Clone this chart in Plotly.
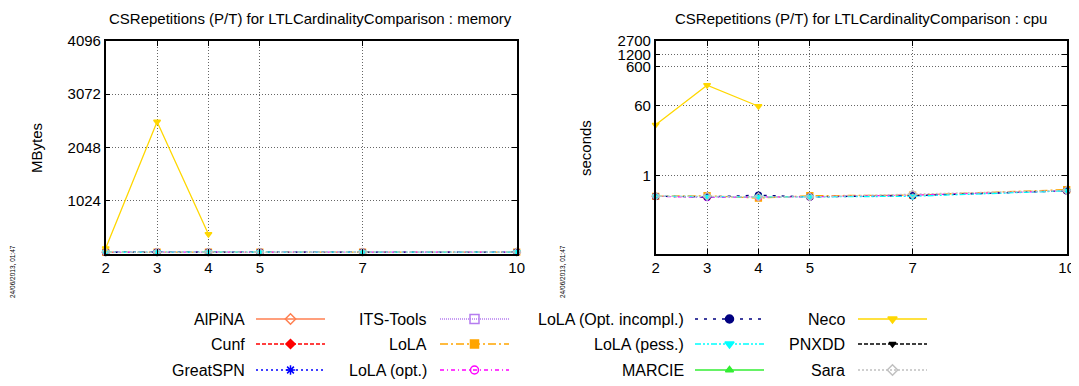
import plotly.graph_objects as go

# x axis: model scaling parameter
sizes = [2, 3, 4, 5, 7, 10]
x_ticks = [2, 3, 4, 5, 7, 10]
mem_ticks = [0, 1024, 2048, 3072, 4096]
mem_tick_text = ["", "1024", "2048", "3072", "4096"]
cpu_ticks = [1, 60, 600, 1200, 2700]

tools = ["AlPiNA", "Cunf", "GreatSPN", "ITS-Tools", "LoLA", "LoLA (opt.)",
         "LoLA (Opt. incompl.)", "LoLA (pess.)", "MARCIE", "Neco", "PNXDD", "Sara"]

# memory (MB)
mem_lola = [24, 24, 24, 25, 26, 28]
mem_lola_opt = [24, 24, 24, 25, 26, 28]
mem_lola_incompl = [24, 24, 24, 25, 26, 28]
mem_lola_pess = [24, 24, 24, 25, 26, 28]
mem_sara = [22, 22, 22, 23, 24, 26]
mem_neco = [100, 2540, 372, None, None, None]

# cpu (seconds)
cpu_lola = [0.29, 0.30, 0.26, 0.30, 0.31, 0.43]
cpu_lola_opt = [0.29, 0.27, 0.28, 0.28, 0.31, 0.40]
cpu_lola_incompl = [0.29, 0.28, 0.31, 0.28, 0.30, 0.40]
cpu_lola_pess = [0.29, 0.28, 0.28, 0.28, 0.29, 0.40]
cpu_sara = [0.29, 0.29, 0.28, 0.28, 0.33, 0.41]
cpu_neco = [19.5, 200, 58, None, None, None]

FONT = "Liberation Sans, Arial, sans-serif"

# page body has an 8px margin, so lay out in page pixels and shift
OFF = 8
W, H = 1079 - OFF, 386 - OFF


def px(v):
    return v - OFF


# gnuplot-like styles per tool
styles = {
    "AlPiNA": dict(color="#ff7f50", dash="solid", symbol="diamond-open", msize=8),
    "Cunf": dict(color="#ff0000", dash="4px,2px", symbol="diamond", msize=7),
    "GreatSPN": dict(color="#0000ff", dash="2px,3px", symbol="asterisk-open", msize=8),
    "ITS-Tools": dict(color="#b57cf0", dash="1px,1px", symbol="square-open", msize=9),
    "LoLA": dict(color="#ffa500", dash="8px,3px,2px,3px", symbol="square", msize=8),
    "LoLA (opt.)": dict(color="#ff00ff", dash="4px,3px,1px,3px", symbol="circle-open", msize=8),
    "LoLA (Opt. incompl.)": dict(color="#000080", dash="3px,6px", symbol="circle", msize=8),
    "LoLA (pess.)": dict(color="#00ffff", dash="6px,2px,2px,2px,2px,2px", symbol="triangle-down", msize=8),
    "MARCIE": dict(color="#33ee33", dash="solid", symbol="triangle-up", msize=7),
    "Neco": dict(color="#ffd700", dash="solid", symbol="triangle-down", msize=8),
    "PNXDD": dict(color="#000000", dash="4px,2px", symbol="triangle-down", msize=6),
    "Sara": dict(color="#c0c0c0", dash="2px,2px", symbol="diamond-open", msize=8),
}

mem_series = {"LoLA": mem_lola, "LoLA (opt.)": mem_lola_opt,
              "LoLA (Opt. incompl.)": mem_lola_incompl, "LoLA (pess.)": mem_lola_pess,
              "Sara": mem_sara, "Neco": mem_neco}
cpu_series = {"LoLA": cpu_lola, "LoLA (opt.)": cpu_lola_opt,
              "LoLA (Opt. incompl.)": cpu_lola_incompl, "LoLA (pess.)": cpu_lola_pess,
              "Sara": cpu_sara, "Neco": cpu_neco}

fig = go.Figure()

for tool in tools:
    st = styles[tool]
    for series, xa, ya in [(mem_series, "x", "y"), (cpu_series, "x2", "y2")]:
        if tool not in series:
            continue
        fig.add_trace(go.Scatter(
            x=sizes, y=series[tool], xaxis=xa, yaxis=ya,
            mode="lines+markers",
            line=dict(color=st["color"], width=1.3, dash=st["dash"]),
            marker=dict(symbol=st["symbol"], size=st["msize"] - 2, color=st["color"],
                        line=dict(color=st["color"], width=1.3)),
            showlegend=False, name=tool, connectgaps=False, cliponaxis=False,
        ))

# hand-made legend in page pixel coordinates (x3/y3)
col_text_right = [247, 429, 686, 847]
col_sample_left = [256, 440, 695, 858]
row_y = [319, 344, 370]
sample_len = 69
for i, tool in enumerate(tools):
    col, row = divmod(i, 3)
    st = styles[tool]
    x0 = col_sample_left[col]
    y = row_y[row]
    fig.add_trace(go.Scatter(
        x=[px(x0), px(x0 + sample_len)], y=[px(y), px(y)], xaxis="x3", yaxis="y3",
        mode="lines", line=dict(color=st["color"], width=1.6, dash=st["dash"]),
        showlegend=False, hoverinfo="skip",
    ))
    fig.add_trace(go.Scatter(
        x=[px(x0 + sample_len / 2)], y=[px(y)], xaxis="x3", yaxis="y3",
        mode="markers",
        marker=dict(symbol=st["symbol"], size=st["msize"], color=st["color"],
                    line=dict(color=st["color"], width=1.5)),
        showlegend=False, hoverinfo="skip",
    ))
    fig.add_annotation(x=px(col_text_right[col]), y=px(y), xref="x3", yref="y3",
                       text=tool, showarrow=False, xanchor="right", yanchor="middle",
                       font=dict(family=FONT, size=16, color="#000000"))

axis_common = dict(
    showline=True, linecolor="#000000", linewidth=1.5, mirror="ticks",
    ticks="inside", ticklen=5, tickcolor="#000000",
    showgrid=True, gridcolor="#666666", griddash="1px,2px", gridwidth=1,
    zeroline=False, automargin=False,
    tickfont=dict(family=FONT, size=15, color="#000000"),
)

plot_top, plot_bottom = 41, 253.5
mem_left, mem_right = 105.7, 516.7
cpu_left, cpu_right = 655.7, 1066.7

fig.update_layout(
    width=W, height=H,
    margin=dict(l=0, r=0, t=0, b=0, pad=0),
    paper_bgcolor="#ffffff", plot_bgcolor="rgba(0,0,0,0)",
    showlegend=False,
    xaxis=dict(axis_common, domain=[px(mem_left) / W, px(mem_right) / W], range=[2, 10],
               tickvals=x_ticks, anchor="y"),
    yaxis=dict(axis_common, domain=[1 - px(plot_bottom) / H, 1 - px(plot_top) / H],
               range=[0, 4096], tickvals=mem_ticks, ticktext=mem_tick_text, anchor="x"),
    xaxis2=dict(axis_common, domain=[px(cpu_left) / W, px(cpu_right) / W], range=[2, 10],
                tickvals=x_ticks, anchor="y2"),
    yaxis2=dict(axis_common, domain=[1 - px(plot_bottom) / H, 1 - px(plot_top) / H],
                type="log", range=[-2, 3.4314], tickvals=cpu_ticks,
                ticktext=[str(v) for v in cpu_ticks], anchor="x2"),
    xaxis3=dict(domain=[0, 1], range=[0, W], visible=False, anchor="y3",
                fixedrange=True, automargin=False),
    yaxis3=dict(domain=[0, 1], range=[H, 0], visible=False, anchor="x3",
                fixedrange=True, automargin=False),
)

titles = [("CSRepetitions (P/T) for LTLCardinalityComparison : memory", 310.5),
          ("CSRepetitions (P/T) for LTLCardinalityComparison : cpu", 861)]
for text, xc in titles:
    fig.add_annotation(x=px(xc), y=px(18), xref="x3", yref="y3", text=text,
                       showarrow=False,
                       font=dict(family=FONT, size=15, color="#000000"))

for text, xc in [("MBytes", 36), ("seconds", 585)]:
    fig.add_annotation(x=px(xc), y=px(148), xref="x3", yref="y3", text=text,
                       showarrow=False, textangle=-90,
                       font=dict(family=FONT, size=15, color="#000000"))

for xd in [12, 562]:
    fig.add_annotation(x=px(xd), y=px(272), xref="x3", yref="y3", text="24/06/2013, 01:47",
                       showarrow=False, textangle=-90,
                       font=dict(family=FONT, size=6.5, color="#000000"))

fig.write_html("out.html")
